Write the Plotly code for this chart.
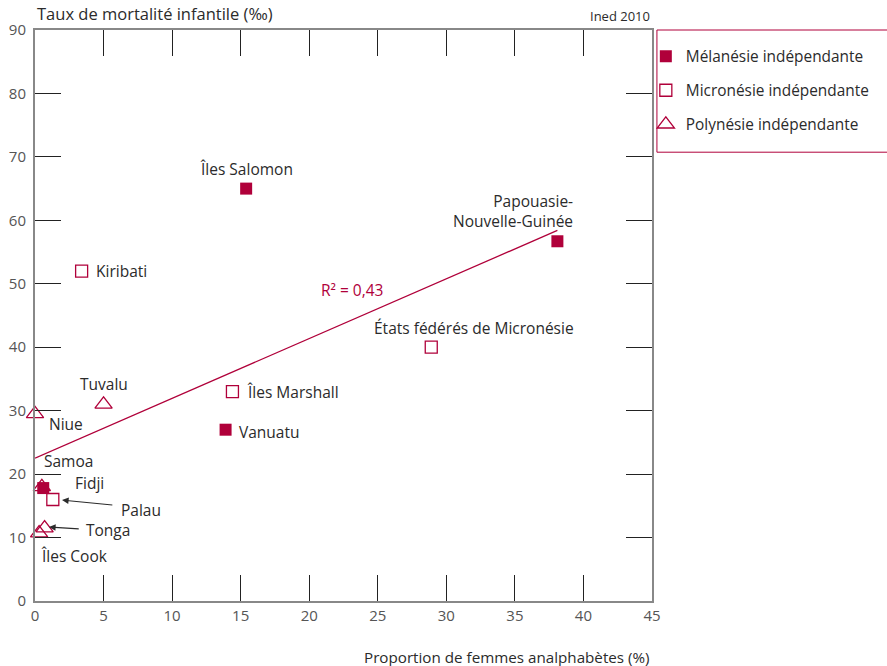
import numpy as np
import plotly.graph_objects as go

# Infant mortality vs. female illiteracy, independent Pacific states
mel_names = ["Îles Salomon", "Papouasie-Nouvelle-Guinée", "Vanuatu", "Fidji"]
mel_x = [15.4, 38.1, 13.9, 0.6]
mel_y = [65.0, 56.7, 27.0, 17.8]

mic_names = ["Kiribati", "Îles Marshall", "États fédérés de Micronésie", "Palau"]
mic_x = [3.4, 14.4, 28.9, 1.3]
mic_y = [52.0, 33.0, 40.0, 16.0]

pol_names = ["Niue", "Tuvalu", "Samoa", "Tonga", "Îles Cook"]
pol_x = [0.0, 5.0, 0.5, 0.7, 0.3]
pol_y = [29.5, 31.0, 18.0, 11.5, 10.7]

x_ticks = [0, 5, 10, 15, 20, 25, 30, 35, 40, 45]
y_ticks = [0, 10, 20, 30, 40, 50, 60, 70, 80, 90]

RED = "#b0003a"
INK = "#2b2b2b"
FONT = "Open Sans"
LABEL_SIZE = 15.5

# Least-squares fit over all countries
all_x = np.array(mel_x + mic_x + pol_x)
all_y = np.array(mel_y + mic_y + pol_y)
slope, intercept = np.polyfit(all_x, all_y, 1)
r2 = np.corrcoef(all_x, all_y)[0, 1] ** 2
fit_x = np.array([0.0, all_x.max()])
fit_y = intercept + slope * fit_x

fig = go.Figure()
fig.add_trace(go.Scatter(x=fit_x, y=fit_y, mode="lines", line=dict(color=RED, width=1.3),
                         showlegend=False, hoverinfo="skip"))
fig.add_trace(go.Scatter(x=mel_x, y=mel_y, text=mel_names, mode="markers", name="Mélanésie indépendante",
                         legendgroup="mel",
                         marker=dict(symbol="square", size=12, color=RED, line=dict(width=0)),
                         cliponaxis=False))
fig.add_trace(go.Scatter(x=mic_x, y=mic_y, text=mic_names, mode="markers", name="Micronésie indépendante",
                         legendgroup="mic",
                         marker=dict(symbol="square-open", size=12, color=RED, line=dict(width=1.3)),
                         cliponaxis=False))
fig.add_trace(go.Scatter(x=pol_x, y=pol_y, text=pol_names, mode="markers", name="Polynésie indépendante",
                         legendgroup="pol",
                         marker=dict(symbol="triangle-up-open", size=15, color=RED, line=dict(width=1.3)),
                         cliponaxis=False))

# Country label placement: (x, y, anchor)
label_place = {
    "Îles Salomon": (15.4, 68.1, "center"),
    "Papouasie-Nouvelle-Guinée": (39.4, 61.5, "right"),
    "Vanuatu": (14.7, 26.6, "left"),
    "Fidji": (2.8, 18.6, "left"),
    "Kiribati": (4.3, 52.0, "left"),
    "Îles Marshall": (15.3, 32.9, "left"),
    "États fédérés de Micronésie": (32.0, 43.0, "center"),
    "Palau": (6.1, 14.3, "left"),
    "Niue": (0.85, 27.9, "left"),
    "Tuvalu": (5.0, 34.2, "center"),
    "Samoa": (0.5, 22.0, "left"),
    "Tonga": (3.6, 11.2, "left"),
    "Îles Cook": (0.3, 7.1, "left"),
}
display = {"Papouasie-Nouvelle-Guinée": "Papouasie-<br>Nouvelle-Guinée"}

annotations = []
for name, (lx, ly, anchor) in label_place.items():
    annotations.append(dict(x=lx, y=ly, xref="x", yref="y", text=display.get(name, name),
                            showarrow=False, xanchor=anchor, yanchor="middle", align=anchor,
                            font=dict(family=FONT, size=LABEL_SIZE, color=INK)))

# Pointer arrows for crowded labels
for (hx, hy, tx, ty) in [(1.97, 15.9, 5.75, 15.1), (1.02, 11.66, 3.3, 11.35)]:
    annotations.append(dict(x=hx, y=hy, ax=tx, ay=ty, xref="x", yref="y", axref="x", ayref="y",
                            text="", showarrow=True, arrowhead=2, arrowsize=1.2, arrowwidth=1.1,
                            arrowcolor=INK, standoff=0, startstandoff=0))

annotations.append(dict(x=23.1, y=49.0, xref="x", yref="y",
                        text=f"R² = {r2:.2f}".replace(".", ","),
                        showarrow=False, font=dict(family=FONT, size=LABEL_SIZE, color=RED)))
annotations.append(dict(x=0, y=1, xref="paper", yref="paper", xanchor="left", yanchor="bottom", yshift=3,
                        text="Taux de mortalité infantile (‰)", showarrow=False,
                        font=dict(family=FONT, size=16.5, color=INK)))
annotations.append(dict(x=1, y=1, xref="paper", yref="paper", xanchor="right", yanchor="bottom", yshift=3,
                        text="Ined 2010", showarrow=False, font=dict(family=FONT, size=13, color=INK)))
annotations.append(dict(x=1, y=0, xref="paper", yref="paper", xanchor="right", yanchor="top", yshift=-44,
                        text="Proportion de femmes analphabètes (%)", showarrow=False,
                        font=dict(family=FONT, size=15.2, color=INK)))

axis_common = dict(showgrid=False, zeroline=False, ticks="inside", ticklen=26, tickwidth=1,
                   tickcolor="#222", showline=True, mirror="ticks", automargin=False,
                   tickfont=dict(family=FONT, size=15, color="#555"))

fig.update_layout(
    width=887, height=666,
    margin=dict(l=35, r=235, t=30, b=65),
    paper_bgcolor="white", plot_bgcolor="white",
    xaxis=dict(range=[0, 45], tickvals=x_ticks, linecolor="#888", linewidth=1.5, **axis_common),
    yaxis=dict(range=[0, 90], tickvals=y_ticks, linecolor="#888", linewidth=2,
               ticklabelstandoff=4, **axis_common),
    legend=dict(x=0.99, y=0.983, xanchor="left", yanchor="top", bgcolor="rgba(0,0,0,0)",
                font=dict(family=FONT, size=15.4, color=INK), tracegroupgap=11, itemwidth=30),
    annotations=annotations,
    shapes=[dict(type="rect", xref="paper", yref="paper", x0=1.008, x1=1.4, y0=0.786, y1=1.0,
                 line=dict(color=RED, width=1), fillcolor="rgba(0,0,0,0)", layer="below")],
    showlegend=True,
)

fig.write_html("out.html")
